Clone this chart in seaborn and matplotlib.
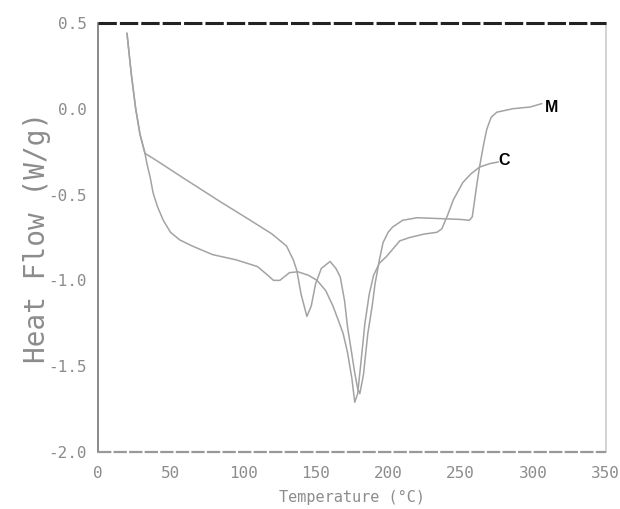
import numpy as np
import pandas as pd
import matplotlib
matplotlib.use("Agg")
import matplotlib.pyplot as plt
import matplotlib.ticker as mticker
import seaborn as sns

# DSC traces (temperature in deg C, heat flow in W/g)
m_temp = [20, 23, 26, 29, 32.4, 40, 60, 84, 105, 120, 130, 134.6, 137, 140,
          144, 147, 150, 154, 160, 164, 167, 170, 172, 175, 177, 179, 180.5,
          183, 186, 189, 191, 194, 196.5, 200, 203, 210, 220, 235, 250, 256,
          258, 261, 263, 266, 268, 271, 275, 286, 298, 302, 306]
m_flow = [0.44, 0.20, 0.00, -0.15, -0.26, -0.30, -0.41, -0.54, -0.65, -0.73,
          -0.80, -0.88, -0.94, -1.08, -1.21, -1.15, -1.02, -0.93, -0.89, -0.93,
          -0.98, -1.12, -1.27, -1.43, -1.54, -1.63, -1.66, -1.55, -1.31, -1.15,
          -1.02, -0.88, -0.78, -0.72, -0.69, -0.65, -0.635, -0.64, -0.645,
          -0.65, -0.63, -0.45, -0.34, -0.20, -0.12, -0.05, -0.02, 0.00, 0.01,
          0.02, 0.03]

c_temp = [20, 23, 26, 29, 32.4, 34, 36, 38, 41, 45, 50, 56.5, 65, 79, 95,
          102.6, 110, 117, 121, 125.4, 132, 137.8, 145, 151, 157, 162, 166,
          169, 172, 175, 177, 179, 181, 184, 187, 190, 194, 199, 208, 215, 225,
          233.6, 237, 241, 245, 251.5, 257, 263, 270, 276]
c_flow = [0.44, 0.20, 0.00, -0.15, -0.26, -0.33, -0.40, -0.49, -0.57, -0.65,
          -0.72, -0.765, -0.80, -0.85, -0.88, -0.90, -0.92, -0.97, -1.00, -1.00,
          -0.955, -0.95, -0.97, -1.00, -1.06, -1.15, -1.24, -1.31, -1.42, -1.57,
          -1.71, -1.66, -1.50, -1.25, -1.08, -0.97, -0.90, -0.86, -0.77, -0.75,
          -0.73, -0.72, -0.70, -0.62, -0.53, -0.43, -0.38, -0.34, -0.32, -0.31]

series_names = ["M", "C"]
label_pos = {"M": (308, 0.005), "C": (276, -0.30)}

df = pd.concat([
    pd.DataFrame({"temp": m_temp, "flow": m_flow, "sample": "M"}),
    pd.DataFrame({"temp": c_temp, "flow": c_flow, "sample": "C"}),
], ignore_index=True)

sns.set_style("white")
plt.rcParams["font.family"] = ["DejaVu Sans Mono", "DejaVu Sans"]
plt.rcParams["axes.unicode_minus"] = False

GREY = "#8c8c8c"
LINE = "#a3a3a3"

fig = plt.figure(figsize=(6.2, 5.09), dpi=100)
ax = fig.add_axes([0.158, 0.112, 0.819, 0.843])

sns.lineplot(data=df, x="temp", y="flow", hue="sample", hue_order=series_names,
             palette={"M": LINE, "C": LINE}, sort=False, estimator=None,
             linewidth=1.1, legend=False, ax=ax)

for name in series_names:
    x, y = label_pos[name]
    ax.text(x, y, name, fontsize=11.5, fontweight="bold", color="black",
            family="Liberation Sans", ha="left", va="center")

ax.set_xlim(0, 350)
ax.set_ylim(-2.0, 0.5)

# plotter-style frame: dashed top and bottom, plain sides
ax.axhline(0.5, color="#222222", linewidth=2.2, linestyle=(0, (6, 1)), clip_on=False, zorder=5)
ax.axhline(-2.0, color="#999999", linewidth=1.6, linestyle=(0, (6, 1)), clip_on=False, zorder=5)
for side in ["top", "bottom"]:
    ax.spines[side].set_visible(False)
ax.spines["left"].set_color("#777777")
ax.spines["left"].set_linewidth(1.2)
ax.spines["right"].set_color("#cccccc")
ax.spines["right"].set_linewidth(1.2)

ax.xaxis.set_major_locator(mticker.MultipleLocator(50))
ax.xaxis.set_minor_locator(mticker.MultipleLocator(25))
ax.yaxis.set_major_locator(mticker.MultipleLocator(0.5))
ax.yaxis.set_minor_locator(mticker.MultipleLocator(0.25))
ax.yaxis.set_major_formatter(mticker.FormatStrFormatter("%.1f"))

ax.tick_params(axis="both", which="major", direction="out", length=6, width=1,
               color="#777777", labelcolor=GREY, labelsize=11.5)
ax.tick_params(axis="both", which="minor", direction="out", length=3.5, width=1,
               color="#777777")
ax.tick_params(axis="x", pad=4)
ax.tick_params(axis="y", pad=2)

fig.canvas.draw()
xt = ax.get_xticklabels()
if xt:
    xt[0].set_color("black")
    xt[0].set_fontweight("bold")

ax.set_xlabel("Temperature (°C)", fontsize=11, color=GREY)
ax.xaxis.set_label_coords(0.5, -0.088)
ax.set_ylabel("Heat Flow (W/g)", fontsize=20, color=GREY)
ax.yaxis.set_label_coords(-0.092, 0.5)

fig.savefig("out.png", dpi=100, facecolor="white")
